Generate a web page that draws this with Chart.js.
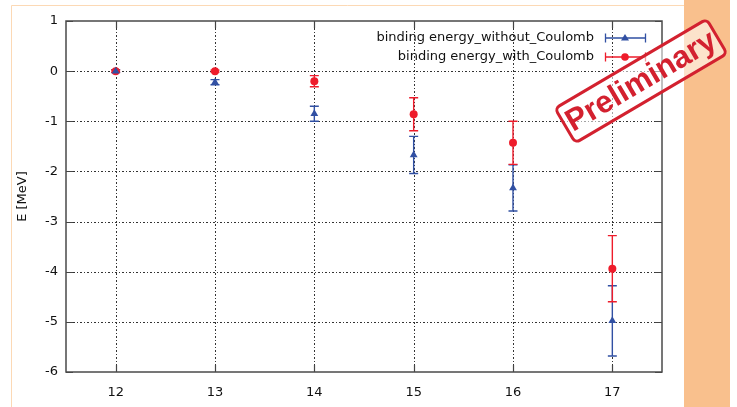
<!DOCTYPE html>
<html>
<head>
<meta charset="utf-8">
<script src="https://cdn.jsdelivr.net/npm/chart.js@4/dist/chart.umd.min.js"></script>
<style>
  html, body { margin: 0; padding: 0; background: #ffffff; }
  #wrap { width: 737px; height: 407px; }
</style>
</head>
<body>
<div id="wrap"><canvas id="c" width="737" height="407"></canvas></div>
<script>
// Mass numbers on the x axis
const massNumbers = [12, 13, 14, 15, 16, 17];

// Binding energy without Coulomb term (MeV) and its uncertainty
const withoutCoulomb = [0.00, -0.22, -0.85, -1.67, -2.33, -4.98];
const withoutCoulombErr = [0.03, 0.05, 0.15, 0.37, 0.46, 0.70];

// Binding energy with Coulomb term (MeV) and its uncertainty
const withCoulomb = [0.00, 0.00, -0.20, -0.86, -1.43, -3.94];
const withCoulombErr = [0.02, 0.02, 0.11, 0.33, 0.43, 0.66];

// Axis tick values
const xTickValues = [12, 13, 14, 15, 16, 17];
const yTickValues = [1, 0, -1, -2, -3, -4, -5, -6];

const seriesLabels = ['binding energy_without_Coulomb', 'binding energy_with_Coulomb'];
const stampText = 'Preliminary';

const BLUE = '#3150a3';
const RED = '#ee1c2b';
const FONT = '"DejaVu Sans", Verdana, sans-serif';

function toPoints(values) {
  return massNumbers.map((m, i) => ({ x: m, y: values[i] }));
}

const errors = [withoutCoulombErr, withCoulombErr];

// Page background, orange frame lines and the right-hand band
const pagePlugin = {
  id: 'page',
  beforeDraw(chart) {
    const ctx = chart.ctx;
    ctx.save();
    ctx.fillStyle = '#ffffff';
    ctx.fillRect(0, 0, chart.width, chart.height);
    ctx.fillStyle = '#f9c08d';
    ctx.fillRect(684, 0, 46, chart.height);
    ctx.strokeStyle = '#fcd9b5';
    ctx.lineWidth = 1;
    ctx.beginPath();
    ctx.moveTo(11.5, 407);
    ctx.lineTo(11.5, 5.5);
    ctx.lineTo(684, 5.5);
    ctx.stroke();
    ctx.restore();
  }
};

// Dotted grid, plot border, inward tick marks and error bars
const framePlugin = {
  id: 'frame',
  beforeDatasetsDraw(chart) {
    const ctx = chart.ctx;
    const xs = chart.scales.x, ys = chart.scales.y;
    const a = chart.chartArea;
    ctx.save();
    // grid
    ctx.strokeStyle = '#333333';
    ctx.lineWidth = 1;
    ctx.setLineDash([2, 2, 1, 2]);
    xTickValues.forEach(v => {
      const px = Math.round(xs.getPixelForValue(v)) + 0.5;
      ctx.beginPath();
      ctx.moveTo(px, a.top);
      ctx.lineTo(px, a.bottom);
      ctx.stroke();
    });
    yTickValues.forEach(v => {
      const py = Math.round(ys.getPixelForValue(v)) + 0.5;
      if (py <= a.top + 1 || py >= a.bottom - 1) return;
      ctx.beginPath();
      ctx.moveTo(a.left, py);
      ctx.lineTo(a.right, py);
      ctx.stroke();
    });
    ctx.setLineDash([]);
    // inward ticks
    ctx.strokeStyle = '#444444';
    ctx.lineWidth = 1.2;
    const tl = 7;
    xTickValues.forEach(v => {
      const px = Math.round(xs.getPixelForValue(v)) + 0.5;
      ctx.beginPath();
      ctx.moveTo(px, a.bottom); ctx.lineTo(px, a.bottom - tl);
      ctx.moveTo(px, a.top); ctx.lineTo(px, a.top + tl);
      ctx.stroke();
    });
    yTickValues.forEach(v => {
      const py = Math.round(ys.getPixelForValue(v)) + 0.5;
      ctx.beginPath();
      ctx.moveTo(a.left, py); ctx.lineTo(a.left + tl, py);
      ctx.moveTo(a.right, py); ctx.lineTo(a.right - tl, py);
      ctx.stroke();
    });
    // border
    ctx.strokeStyle = '#4a4a4a';
    ctx.lineWidth = 1.5;
    ctx.strokeRect(a.left, a.top, a.right - a.left, a.bottom - a.top);

    // error bars
    chart.data.datasets.forEach((ds, di) => {
      ctx.strokeStyle = ds.borderColor;
      ctx.lineWidth = 1.4;
      ds.data.forEach((p, i) => {
        const e = errors[di][i];
        const px = xs.getPixelForValue(p.x);
        const yt = ys.getPixelForValue(p.y + e);
        const yb = ys.getPixelForValue(p.y - e);
        ctx.beginPath();
        ctx.moveTo(px, yt); ctx.lineTo(px, yb);
        ctx.moveTo(px - 4.5, yt); ctx.lineTo(px + 4.5, yt);
        ctx.moveTo(px - 4.5, yb); ctx.lineTo(px + 4.5, yb);
        ctx.stroke();
      });
    });
    ctx.restore();
  }
};

// Key in the upper right corner and the rotated stamp
const overlayPlugin = {
  id: 'overlay',
  afterDraw(chart) {
    const ctx = chart.ctx;
    ctx.save();
    // key
    ctx.font = '13px ' + FONT;
    ctx.textAlign = 'right';
    ctx.textBaseline = 'middle';
    const rows = [38, 57];
    chart.data.datasets.forEach((ds, di) => {
      const y = rows[di];
      ctx.fillStyle = '#111111';
      ctx.fillText(ds.label, 594, y);
      ctx.strokeStyle = ds.borderColor;
      ctx.lineWidth = 1.3;
      ctx.beginPath();
      ctx.moveTo(605, y); ctx.lineTo(646, y);
      ctx.moveTo(605.5, y - 4.5); ctx.lineTo(605.5, y + 4.5);
      ctx.moveTo(645.5, y - 4.5); ctx.lineTo(645.5, y + 4.5);
      ctx.stroke();
      ctx.fillStyle = ds.backgroundColor;
      ctx.beginPath();
      if (ds.pointStyle === 'triangle') {
        ctx.moveTo(625, y - 4); ctx.lineTo(629, y + 2.5); ctx.lineTo(621, y + 2.5);
        ctx.closePath();
      } else {
        ctx.arc(625, y, 3.8, 0, Math.PI * 2);
      }
      ctx.fill();
    });

    // stamp
    ctx.translate(641, 81);
    ctx.rotate(-30.5 * Math.PI / 180);
    const w = 176, h = 40, r = 5;
    ctx.fillStyle = 'rgba(255,255,255,0.55)';
    ctx.strokeStyle = '#d3212f';
    ctx.lineWidth = 3;
    ctx.beginPath();
    ctx.roundRect(-w / 2, -h / 2, w, h, r);
    ctx.fill();
    ctx.stroke();
    ctx.fillStyle = '#d3212f';
    ctx.font = 'bold 31px "Liberation Sans", Arial, sans-serif';
    ctx.textAlign = 'center';
    ctx.textBaseline = 'middle';
    ctx.fillText(stampText, 0, 1);
    ctx.restore();
  }
};

new Chart(document.getElementById('c'), {
  type: 'scatter',
  data: {
    datasets: [
      {
        label: seriesLabels[0],
        data: toPoints(withoutCoulomb),
        pointStyle: 'triangle',
        pointRadius: 4.5,
        backgroundColor: BLUE,
        borderColor: BLUE,
        borderWidth: 0,
        showLine: false
      },
      {
        label: seriesLabels[1],
        data: toPoints(withCoulomb),
        pointStyle: 'circle',
        pointRadius: 4,
        backgroundColor: RED,
        borderColor: RED,
        borderWidth: 0,
        showLine: false
      }
    ]
  },
  options: {
    responsive: false,
    devicePixelRatio: 1,
    animation: false,
    layout: { padding: { top: 21, right: 75, bottom: 0, left: 0 } },
    plugins: { legend: { display: false }, tooltip: { enabled: false } },
    scales: {
      x: {
        type: 'linear',
        min: 11.5,
        max: 17.5,
        afterBuildTicks: s => { s.ticks = xTickValues.map(v => ({ value: v })); },
        afterFit: s => { s.height = 35; },
        grid: { display: false, drawTicks: false },
        border: { display: false },
        ticks: { color: '#111111', font: { family: FONT, size: 13 }, padding: 13, maxRotation: 0 }
      },
      y: {
        min: -6,
        max: 1,
        afterBuildTicks: s => { s.ticks = yTickValues.map(v => ({ value: v })); },
        afterFit: s => { s.width = 66; },
        grid: { display: false, drawTicks: false },
        border: { display: false },
        ticks: { color: '#111111', font: { family: FONT, size: 13 }, padding: 8 },
        title: {
          display: true,
          text: 'E [MeV]',
          color: '#111111',
          font: { family: FONT, size: 13 },
          padding: { top: 15, bottom: 0 }
        }
      }
    }
  },
  plugins: [pagePlugin, framePlugin, overlayPlugin]
});
</script>
</body>
</html>
